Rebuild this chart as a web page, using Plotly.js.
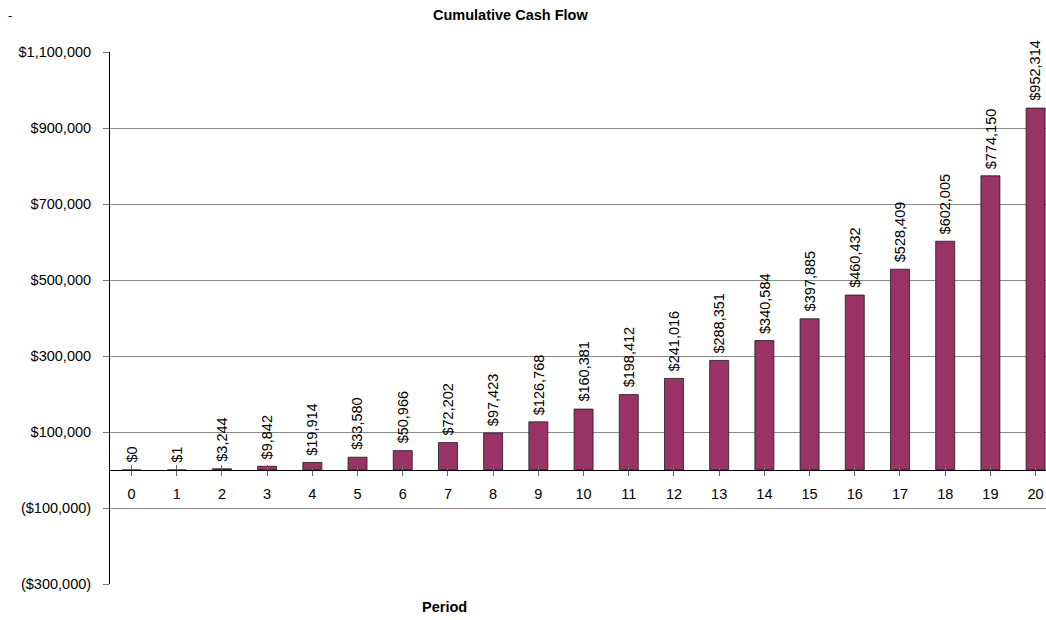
<!DOCTYPE html>
<html><head><meta charset="utf-8">
<script src="https://cdn.plot.ly/plotly-3.0.1.min.js"></script>
<style>html,body{margin:0;padding:0;background:#fff}#c{width:1046px;height:620px}</style>
</head><body><div id="c"></div>
<script>
const periods = ["0","1","2","3","4","5","6","7","8","9","10","11","12","13","14","15","16","17","18","19","20"];
const cumulativeCash = [0,1,3244,9842,19914,33580,50966,72202,97423,126768,160381,198412,241016,288351,340584,397885,460432,528409,602005,774150,952314];
const yTickVals = [1100000,900000,700000,500000,300000,100000,-100000,-300000];
const yTickText = ["$1,100,000","$900,000","$700,000","$500,000","$300,000","$100,000","($100,000)","($300,000)"];

const xIdx = periods.map((p,i)=>i);
const F = "Liberation Sans, Arial, sans-serif";
const XR = [-0.476, 20.23];

const trace = {
  type:'bar', x:xIdx, y:cumulativeCash, width:0.42,
  marker:{color:'#993366', line:{color:'#1a1a1a', width:0.8}},
  hoverinfo:'none'
};
const trace2 = {type:'scatter', x:[xIdx[0]], y:[0], xaxis:'x2', mode:'markers', marker:{opacity:0}, hoverinfo:'none', showlegend:false};

const dataLabels = cumulativeCash.map((v,i)=>({
  text:'$'+v.toLocaleString('en-US'), xref:'x', yref:'y', x:xIdx[i], y:v,
  textangle:-90, xanchor:'center', yanchor:'bottom', yshift:6, showarrow:false,
  borderpad:0, font:{family:F, size:14.5, color:'#000'}
}));

const layout = {
  width:1046, height:620,
  margin:{l:110, r:0, t:52, b:36},
  paper_bgcolor:'#fff', plot_bgcolor:'#fff',
  showlegend:false, bargap:0.58,
  font:{family:F, size:14, color:'#000'},
  xaxis:{
    range:XR, tickmode:'array', tickvals:xIdx, ticktext:periods,
    anchor:'free', position:3/14, showline:true, linecolor:'#000', linewidth:1,
    ticks:'outside', tickson:'boundaries', ticklen:5, tickcolor:'#666', tickwidth:1,
    showgrid:false, zeroline:false, tickfont:{family:F, size:14.5, color:'#000'},
    ticklabelstandoff:6
  },
  xaxis2:{
    range:XR, overlaying:'x', anchor:'free', position:3/14,
    tickmode:'array', tickvals:xIdx, showticklabels:false,
    ticks:'inside', tickson:'boundaries', ticklen:5, tickcolor:'#666', tickwidth:1,
    showgrid:false, zeroline:false, showline:false
  },
  yaxis:{
    range:[-300000, 1100000], tickmode:'array', tickvals:yTickVals, ticktext:yTickText,
    showline:true, linecolor:'#000', linewidth:1, ticks:'outside', ticklen:6, tickcolor:'#777',
    showgrid:true, gridcolor:'#8a8a8a', gridwidth:1, zeroline:false,
    tickfont:{family:F, size:14.5, color:'#000'}, ticklabelstandoff:9
  },
  annotations:[
    {text:'<b>Cumulative Cash Flow</b>', xref:'paper', yref:'paper', x:(510-110)/936, y:1, yshift:37, showarrow:false, xanchor:'center', yanchor:'middle', font:{family:F, size:14.5, color:'#000'}},
    {text:'<b>Period</b>', xref:'paper', yref:'paper', x:(444-110)/936, y:0, yshift:-23, showarrow:false, xanchor:'center', yanchor:'middle', font:{family:F, size:14.5, color:'#000'}},
    {text:'-', xref:'paper', yref:'paper', x:-110/936, y:1, yshift:37, xshift:10, showarrow:false, xanchor:'center', yanchor:'middle', font:{family:F, size:13, color:'#000'}}
  ].concat(dataLabels)
};
Plotly.newPlot('c', [trace, trace2], layout, {staticPlot:true, displayModeBar:false});
</script></body></html>
